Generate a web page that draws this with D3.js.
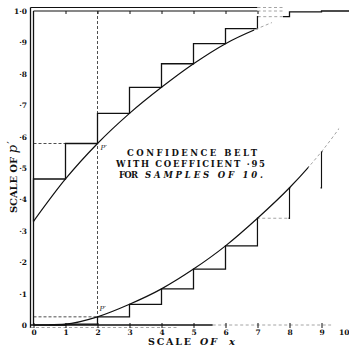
<!DOCTYPE html>
<html>
<head>
<meta charset="utf-8">
<script src="https://cdn.jsdelivr.net/npm/d3@7"></script>
<style>
  html, body { margin: 0; padding: 0; background: #fff; }
  svg { display: block; }
  .tick text { font-family: "DejaVu Serif", serif; font-weight: bold; fill: #111; }
</style>
</head>
<body>
<svg id="chart" width="349" height="347"></svg>
<script>
// Number of successes x observed in a sample of 10
const xCounts = [0, 1, 2, 3, 4, 5, 6, 7, 8, 9, 10];
const xTickLabels = ["0", "1", "2", "3", "4", "5", "6", "7", "8", "9", "10"];

// Scale of p'
const pTicks = [0, 0.1, 0.2, 0.3, 0.4, 0.5, 0.6, 0.7, 0.8, 0.9, 1.0];
const pTickLabels = ["0", "·1", "·2", "·3", "·4", "·5", "·6", "·7", "·8", "·9", "1·0"];

// Upper and lower limits of the belt at each x
const upperLimit = [0.33, 0.465, 0.578, 0.674, 0.757, 0.832, 0.896, 0.944, 0.982, 0.997, 1.0];
const lowerLimit = [0, 0.003, 0.026, 0.066, 0.115, 0.178, 0.252, 0.34, 0.437, 0.552, 0.69];

// Worked reading at x = 2
const exampleX = 2;

const beltTitle = ["CONFIDENCE  BELT", "WITH COEFFICIENT ·95", "FOR", "SAMPLES  OF  10."];

const svg = d3.select("#chart");
const x = d3.scaleLinear().domain([0, 10]).range([33.5, 353.5]);
const y = d3.scaleLinear().domain([0, 1]).range([325, 11]);

const defs = svg.append("defs");
let clipCount = 0;
function clipBetween(a, b) {
  const id = "band" + (clipCount++);
  defs.append("clipPath").attr("id", id)
    .append("rect")
    .attr("x", x(a)).attr("y", 0)
    .attr("width", Math.max(0, x(b) - x(a))).attr("height", 347);
  return "url(#" + id + ")";
}

// Well printed parts are solid black, worn parts come out as broken grey
const inks = {
  ink:   { stroke: "#111", dash: null },
  faint: { stroke: "#9a9a9a", dash: "3,2.5" }
};
function drawPiecewise(d, pieces, width) {
  pieces.forEach(pc => {
    if (pc.style === "none") return;
    const s = inks[pc.style];
    svg.append("path")
      .attr("d", d)
      .attr("fill", "none")
      .attr("stroke", s.stroke)
      .attr("stroke-width", pc.style === "ink" ? width : 0.9)
      .attr("stroke-dasharray", s.dash)
      .attr("clip-path", clipBetween(pc.from, pc.to));
  });
}

const upperPts = xCounts.map((k, i) => [k, upperLimit[i]]);
const lowerPts = xCounts.map((k, i) => [k, lowerLimit[i]]);

const smooth = d3.line().x(d => x(d[0])).y(d => y(d[1])).curve(d3.curveMonotoneX);
const stairUp = d3.line().x(d => x(d[0])).y(d => y(d[1])).curve(d3.curveStepBefore);
const stairDown = d3.line().x(d => x(d[0])).y(d => y(d[1])).curve(d3.curveStepAfter);

// ---- frame ----
const x0 = x(0), yTop = y(1), yBase = y(0);
function hline(x1, x2, yy, style, w) {
  const s = inks[style];
  svg.append("line").attr("x1", x1).attr("x2", x2).attr("y1", yy).attr("y2", yy)
    .attr("stroke", s.stroke).attr("stroke-width", style === "ink" ? w : 0.9)
    .attr("stroke-dasharray", s.dash);
}
// left double rule
svg.append("line").attr("x1", x0 - 3).attr("x2", x0 - 3).attr("y1", yTop - 3.5).attr("y2", yBase + 3)
  .attr("stroke", "#111").attr("stroke-width", 1.3);
svg.append("line").attr("x1", x0).attr("x2", x0).attr("y1", yTop).attr("y2", yBase)
  .attr("stroke", "#111").attr("stroke-width", 1.3);
// top double rule
hline(x0 - 3, x(7.0), yTop - 3.5, "ink", 1.2);
hline(x(7.0), x(7.8), yTop - 3.5, "faint");
hline(x0, x(7.0), yTop, "ink", 1.2);
hline(x(7.0), x(7.8), yTop, "faint");
// bottom rule
hline(x0 - 3, x(5.6), yBase, "ink", 1.4);
hline(x(5.6), x(9.3), yBase, "faint");
hline(x0 - 3, x(4.5), yBase + 2.5, "faint");

// top ticks
svg.append("g")
  .attr("transform", `translate(0,${yTop})`)
  .call(d3.axisTop(x).tickValues(xCounts.slice(1, 8)).tickSize(-3).tickFormat(""))
  .call(g => g.select(".domain").remove())
  .call(g => g.selectAll(".tick line").attr("stroke", "#111").attr("stroke-width", 1));

// bottom axis: ticks and labels
svg.append("g")
  .attr("transform", `translate(0,${yBase})`)
  .call(d3.axisBottom(x).tickValues(xCounts).tickSize(3).tickPadding(1.5)
    .tickFormat((d, i) => xTickLabels[i]))
  .call(g => g.select(".domain").remove())
  .call(g => g.selectAll(".tick line").attr("stroke", "#111").attr("stroke-width", 1).attr("y1", -2))
  .call(g => g.selectAll(".tick text").style("font-size", "7.5px"))
  // the last label sits at the page edge, so it is set flush against it
  .call(g => g.selectAll(".tick").filter(d => d === 10).select("text")
    .attr("text-anchor", "end").attr("x", x(10) > 349 ? 349 - x(10) : 0));

// left axis labels
svg.append("g")
  .attr("transform", `translate(${x0},0)`)
  .call(d3.axisLeft(y).tickValues(pTicks).tickSize(0).tickPadding(6.5)
    .tickFormat((d, i) => pTickLabels[i]))
  .call(g => g.select(".domain").remove())
  .call(g => g.selectAll(".tick text").style("font-size", "7.5px"));

// ---- reading guides at x = 2 ----
const guide = svg.append("g").attr("stroke", "#222").attr("stroke-width", 0.8)
  .attr("stroke-dasharray", "3,2").attr("fill", "none");
guide.append("line").attr("x1", x(exampleX)).attr("x2", x(exampleX))
  .attr("y1", yTop).attr("y2", yBase);
guide.append("line").attr("x1", x0).attr("x2", x(exampleX))
  .attr("y1", y(upperLimit[exampleX])).attr("y2", y(upperLimit[exampleX]));
guide.append("line").attr("x1", x0).attr("x2", x(exampleX))
  .attr("y1", y(lowerLimit[exampleX])).attr("y2", y(lowerLimit[exampleX]));

// ---- staircases ----
drawPiecewise(stairUp(upperPts), [
  { from: -0.1, to: 7.03, style: "ink" },
  { from: 7.03, to: 7.8, style: "faint" },
  { from: 7.8, to: 10.2, style: "ink" }
], 1.3);

drawPiecewise(stairDown(lowerPts), [
  { from: -0.1, to: 7.03, style: "ink" },
  { from: 7.03, to: 7.97, style: "faint" },
  { from: 7.97, to: 8.03, style: "ink" },
  { from: 8.97, to: 9.03, style: "ink" }
], 1.3);

// ---- belt curves ----
drawPiecewise(smooth(upperPts), [
  { from: -0.1, to: 6.9, style: "ink" },
  { from: 6.9, to: 7.45, style: "faint" }
], 1.2);

drawPiecewise(smooth(lowerPts), [
  { from: 0.5, to: 8.6, style: "ink" },
  { from: 8.6, to: 9.55, style: "faint" }
], 1.2);

// ---- point labels ----
const pLabel = svg.append("g").style("font-family", "'DejaVu Serif', serif")
  .style("font-style", "italic").style("font-size", "7px").attr("fill", "#222");
pLabel.append("text").attr("x", x(exampleX) + 3).attr("y", y(upperLimit[exampleX]) + 6).text("P′");
pLabel.append("text").attr("x", x(exampleX) + 2).attr("y", y(lowerLimit[exampleX]) - 6).text("P′");

// ---- belt title ----
const title = svg.append("g").style("font-family", "'DejaVu Serif', serif")
  .style("font-weight", "bold").style("font-size", "8.5px").attr("fill", "#111");
title.append("text").attr("x", 127).attr("y", 155.5)
  .attr("textLength", 130).attr("lengthAdjust", "spacing").text(beltTitle[0]);
title.append("text").attr("x", 116).attr("y", 166.5)
  .attr("textLength", 149).attr("lengthAdjust", "spacing").text(beltTitle[1]);
title.append("text").attr("x", 119).attr("y", 177.5)
  .attr("textLength", 19).attr("lengthAdjust", "spacing").text(beltTitle[2]);
title.append("text").attr("x", 145).attr("y", 177.5).style("font-style", "italic")
  .attr("textLength", 118).attr("lengthAdjust", "spacing").text(beltTitle[3]);

// ---- axis titles ----
const axisTitle = svg.append("g").style("font-family", "'DejaVu Serif', serif")
  .style("font-weight", "bold").attr("fill", "#111");
axisTitle.append("text").attr("x", 148).attr("y", 345).style("font-size", "9.5px")
  .attr("textLength", 43).attr("lengthAdjust", "spacing").text("SCALE");
axisTitle.append("text").attr("x", 200).attr("y", 345).style("font-size", "9.5px")
  .style("font-style", "italic")
  .attr("textLength", 17).attr("lengthAdjust", "spacing").text("OF");
axisTitle.append("text").attr("x", 229).attr("y", 345).style("font-size", "10px")
  .style("font-style", "italic").text("x");

const yTitle = axisTitle.append("text")
  .attr("transform", "translate(17,213) rotate(-90)")
  .style("font-size", "10px");
yTitle.append("tspan").attr("textLength", 56).attr("lengthAdjust", "spacing").text("SCALE OF");
yTitle.append("tspan").attr("dx", 4).style("font-size", "13px").style("font-style", "italic")
  .style("font-weight", "normal").text("p");
yTitle.append("tspan").attr("dx", 1).attr("dy", -2).style("font-size", "11px")
  .style("font-weight", "normal").text("′");
</script>
</body>
</html>
